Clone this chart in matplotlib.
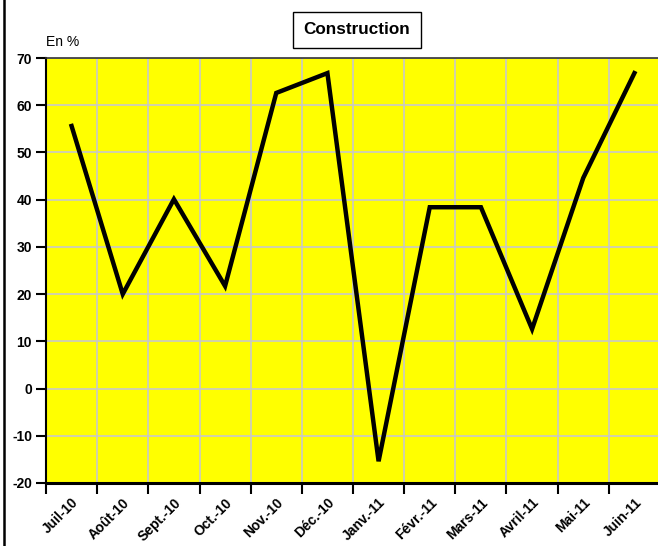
import matplotlib
matplotlib.use("Agg")
import matplotlib.pyplot as plt
from matplotlib.lines import Line2D
import numpy as np

plt.rcParams['font.family'] = ['Liberation Sans', 'DejaVu Sans']

mois = ["Juil-10", "Août-10", "Sept.-10", "Oct.-10", "Nov.-10", "Déc.-10",
        "Janv.-11", "Févr.-11", "Mars-11", "Avril-11", "Mai-11", "Juin-11"]
valeurs = [55.6, 20.0, 40.1, 21.7, 62.6, 66.8, -15.4, 38.4, 38.4, 12.6, 44.6, 66.8]
yticks = [-20, -10, 0, 10, 20, 30, 40, 50, 60, 70]

fig = plt.figure(figsize=(6.58, 5.46), dpi=100)
ax = fig.add_axes([46/658, 63/546, 614/658, 425/546])
ax.set_facecolor("#ffff00")

x = np.arange(len(mois))
ax.plot(x, valeurs, color="black", lw=3.2, solid_joinstyle="miter", zorder=3)

ax.set_xlim(-0.5, len(mois) - 0.5)
ax.set_ylim(-20, 70)
ax.set_yticks(yticks)
ax.set_yticklabels([str(v) for v in yticks], fontweight="bold", fontsize=10)

ax.set_xticks(x)
ax.set_xticklabels(mois, rotation=45, ha="right", va="top",
                   rotation_mode="anchor", fontweight="bold", fontsize=10)
ax.set_xticks(np.arange(-0.5, len(mois), 1), minor=True)
ax.tick_params(axis="x", which="major", length=0, pad=9)
ax.tick_params(axis="x", which="minor", length=8, width=1.5, direction="out")
ax.tick_params(axis="y", length=7, width=1.5, direction="out", pad=3)

ax.grid(True, axis="y", color="#c8c8c8", lw=1.2)
ax.grid(True, axis="x", which="minor", color="#c8c8c8", lw=1.2)
ax.set_axisbelow(True)

ax.spines["left"].set_linewidth(1.5)
ax.spines["bottom"].set_linewidth(2.2)
ax.spines["top"].set_linewidth(1.2)
ax.spines["top"].set_color("#333333")
ax.spines["right"].set_visible(False)

fig.text(46/658, 1 - 49/546, "En %", fontsize=10, ha="left", va="bottom")

fig.text(357/658, 1 - 30/546, "Construction", fontsize=12.3, fontweight="bold",
         ha="center", va="center",
         bbox=dict(boxstyle="square,pad=0.62", fc="white", ec="black", lw=1))

fig.add_artist(Line2D([3.5/658, 3.5/658], [0, 1], color="black", lw=1.8,
                      transform=fig.transFigure))

fig.savefig("out.png", dpi=100)
